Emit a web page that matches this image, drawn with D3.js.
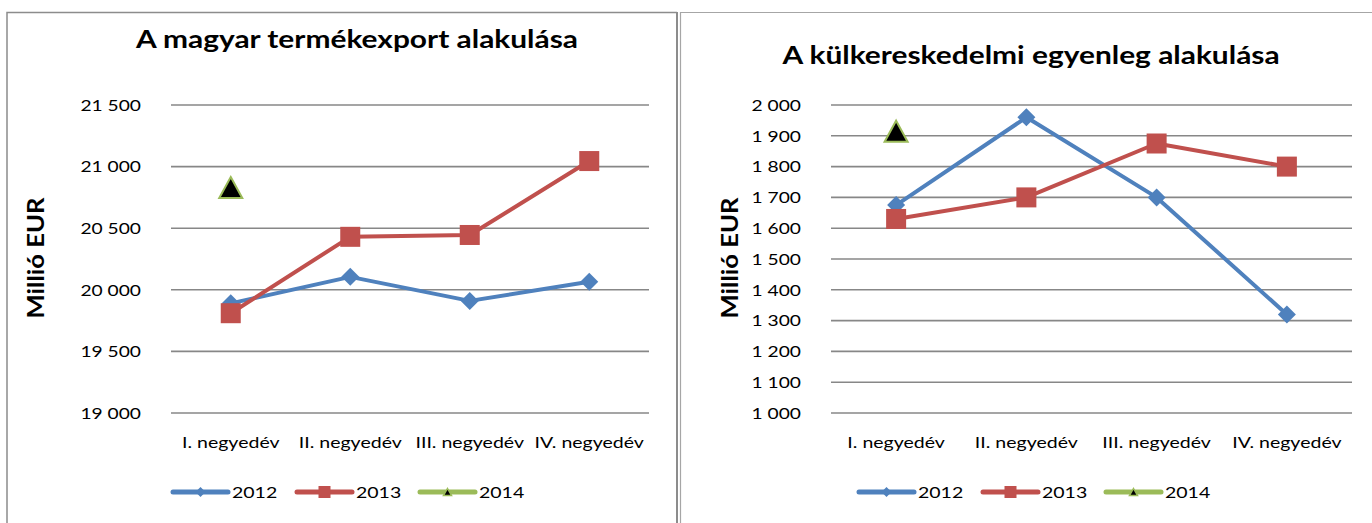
<!DOCTYPE html>
<html>
<head>
<meta charset="utf-8">
<script src="https://cdn.jsdelivr.net/npm/d3@7"></script>
<style>
  body { margin: 0; background: #fff; }
  svg { display: block; font-family: "Lato", "Open Sans", sans-serif; }
</style>
</head>
<body>
<svg id="chart" width="1372" height="523"></svg>
<script>
// categories and series
const quarters = ["I. negyedév", "II. negyedév", "III. negyedév", "IV. negyedév"];
const years = ["2012", "2013", "2014"];

// left chart: termékexport (millió EUR)
const export2012 = [19890, 20105, 19910, 20065];
const export2013 = [19810, 20430, 20445, 21045];
const export2014 = [20830];
const exportTicks = [19000, 19500, 20000, 20500, 21000, 21500];

// right chart: külkereskedelmi egyenleg (millió EUR)
const balance2012 = [1675, 1960, 1700, 1320];
const balance2013 = [1630, 1700, 1875, 1800];
const balance2014 = [1915];
const balanceTicks = [1000, 1100, 1200, 1300, 1400, 1500, 1600, 1700, 1800, 1900, 2000];

const colors = {"2012": "#4f81bd", "2013": "#c0504d", "2014": "#9bbb59"};
const fmt = d => d3.format(",")(d).replace(/,/g, " ");

const svg = d3.select("#chart");

// chart frames
svg.append("path")
    .attr("d", "M7,523 V12.5 H677")
    .attr("fill", "none").attr("stroke", "#8c8c8c").attr("stroke-width", 1.5);
svg.append("line")
    .attr("x1", 677).attr("x2", 677).attr("y1", 12).attr("y2", 523)
    .attr("stroke", "#8c8c8c").attr("stroke-width", 2);
svg.append("path")
    .attr("d", "M680.5,523 V12.5 H1372")
    .attr("fill", "none").attr("stroke", "#a6a6a6").attr("stroke-width", 1.2);

// wide text helper (the reference font is drawn wide)
function wideText(g, x, y, str, size, anchor, sx) {
  return g.append("text")
    .attr("transform", `translate(${x},${y}) scale(${sx},1)`)
    .attr("text-anchor", anchor).attr("dominant-baseline", "central")
    .style("font-size", size + "px").attr("fill", "#000")
    .text(str);
}

function marker(g, year, x, y, big) {
  if (year === "2012") {
    const r = big ? 9 : 5;
    g.append("path")
      .attr("d", `M${x},${y - r} L${x + r},${y} L${x},${y + r} L${x - r},${y} Z`)
      .attr("fill", colors[year]);
  } else if (year === "2013") {
    const s = big ? 20 : 12;
    g.append("rect")
      .attr("x", x - s / 2).attr("y", y - s / 2).attr("width", s).attr("height", s)
      .attr("fill", colors[year]);
  } else {
    const w = big ? 23 : 8, h = big ? 21 : 7;
    g.append("path")
      .attr("d", `M${x},${y - h / 2} L${x + w / 2},${y + h / 2} L${x - w / 2},${y + h / 2} Z`)
      .attr("fill", "#000")
      .attr("stroke", colors[year]).attr("stroke-width", big ? 2 : 1.5);
  }
}

function drawChart(opt) {
  const g = svg.append("g");

  const x = d3.scaleBand().domain(quarters).range([opt.left, opt.right]);
  const y = d3.scaleLinear().domain(opt.domain).range([413, 105]);

  // gridlines
  g.selectAll(".grid")
    .data(opt.ticks)
    .join("line")
      .attr("x1", opt.left).attr("x2", opt.right)
      .attr("y1", d => y(d)).attr("y2", d => y(d))
      .attr("stroke", "#878787").attr("stroke-width", 1.6);

  // y tick labels
  opt.ticks.forEach(t => wideText(g, opt.left - 30, y(t), fmt(t), 16, "end", 1.2));

  // category labels
  quarters.forEach(q => wideText(g, x(q) + x.bandwidth() / 2, 442, q, 15.5, "middle", 1.26));

  // title
  g.append("text")
    .attr("transform", `translate(${opt.titleX},${opt.titleY}) scale(1.22,1)`)
    .attr("text-anchor", "middle")
    .style("font-size", "24.5px").style("font-weight", "bold")
    .text(opt.title);

  // axis title
  g.append("text")
    .attr("transform", `translate(${opt.axisX},258) rotate(-90) scale(1.22,1.1)`)
    .attr("text-anchor", "middle").attr("dominant-baseline", "central")
    .style("font-size", "21px").style("font-weight", "bold")
    .text("Millió EUR");

  const cx = i => x(quarters[i]) + x.bandwidth() / 2;
  const line = d3.line().x((d, i) => cx(i)).y(d => y(d));

  opt.series.forEach((vals, k) => {
    const year = years[k];
    if (vals.length > 1) {
      g.append("path")
        .datum(vals)
        .attr("d", line)
        .attr("fill", "none")
        .attr("stroke", colors[year]).attr("stroke-width", 4)
        .attr("stroke-linejoin", "round");
    }
    vals.forEach((v, i) => marker(g, year, cx(i), y(v), true));
  });

  // legend
  const lg = g.append("g");
  opt.legendX.forEach((lx, k) => {
    const year = years[k];
    lg.append("line")
      .attr("x1", lx).attr("x2", lx + 55).attr("y1", 492).attr("y2", 492)
      .attr("stroke", colors[year]).attr("stroke-width", 5).attr("stroke-linecap", "round");
    marker(lg, year, lx + 27.5, 492, false);
    wideText(lg, lx + 59, 492, year, 16, "start", 1.22);
  });
}

drawChart({
  left: 171, right: 649,
  domain: [19000, 21500],
  ticks: exportTicks,
  series: [export2012, export2013, export2014],
  title: "A magyar termékexport alakulása",
  titleX: 357, titleY: 48,
  axisX: 35,
  legendX: [173, 297, 420]
});

drawChart({
  left: 831, right: 1352,
  domain: [1000, 2000],
  ticks: balanceTicks,
  series: [balance2012, balance2013, balance2014],
  title: "A külkereskedelmi egyenleg alakulása",
  titleX: 1031, titleY: 64,
  axisX: 729,
  legendX: [859, 983, 1106]
});
</script>
</body>
</html>
